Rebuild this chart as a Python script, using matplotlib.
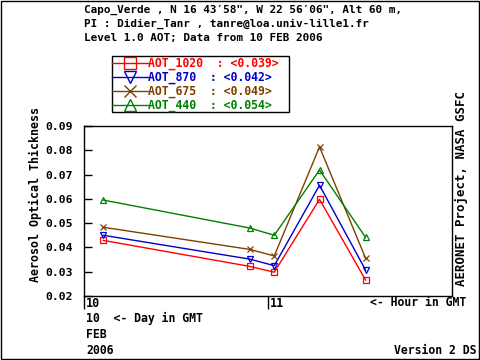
import matplotlib
matplotlib.use("Agg")
import matplotlib.pyplot as plt
from matplotlib.lines import Line2D
from matplotlib.patches import Rectangle

hours = [10.105, 10.90, 11.034, 11.28, 11.53]
aot_1020 = [0.0429, 0.0322, 0.0298, 0.0598, 0.0266]
aot_870 = [0.0450, 0.0352, 0.0325, 0.0656, 0.0307]
aot_675 = [0.0483, 0.0392, 0.0365, 0.0814, 0.0356]
aot_440 = [0.0595, 0.0480, 0.0450, 0.0719, 0.0442]
names = ["AOT_1020", "AOT_870", "AOT_675", "AOT_440"]
means = ["0.039", "0.042", "0.049", "0.054"]
yticks = [0.02, 0.03, 0.04, 0.05, 0.06, 0.07, 0.08, 0.09]
xticks = [10, 11]

colors = ["#ff0000", "#0000cc", "#7f3f00", "#008000"]
markers = ["s", "v", "x", "^"]
series = [aot_1020, aot_870, aot_675, aot_440]

plt.rcParams["font.family"] = "DejaVu Sans Mono"
plt.rcParams["font.weight"] = "bold"
FS = 8.2

W, H = 480, 360
fig = plt.figure(figsize=(4.8, 3.6), dpi=100)
fig.patches.append(Rectangle((0.002, 0.003), 0.995, 0.994, transform=fig.transFigure,
                             fill=False, edgecolor="black", linewidth=1))


def fx(px):
    return px / W


def fy(py):
    return 1 - py / H


ax = fig.add_axes([fx(84), fy(296), fx(452) - fx(84), fy(126) - fy(296)])
for vals, c, m in zip(series, colors, markers):
    ax.plot(hours, vals, color=c, marker=m, markersize=4.5, markerfacecolor="none",
            markeredgecolor=c, markeredgewidth=0.9, linewidth=1.0)

ax.set_xlim(10, 12)
ax.set_ylim(0.02, 0.09)
ax.set_yticks(yticks)
ax.set_yticklabels([f"{v:.2f}" for v in yticks], fontsize=FS, fontweight="bold")
ax.set_xticks(xticks)
ax.set_xticklabels([])
ax.tick_params(axis="y", direction="in", length=6, width=1, pad=8)
ax.tick_params(axis="x", direction="out", length=9, width=1)
for s in ax.spines.values():
    s.set_linewidth(1)
for t in xticks:
    ax.annotate(str(t), xy=(t, 0), xycoords=("data", "axes fraction"), xytext=(1.5, -1),
                textcoords="offset points", fontsize=8.5, fontweight="bold",
                va="top", ha="left")

fig.text(fx(35), fy(195), "Aerosol Optical Thickness", fontsize=8.4, rotation=90,
         va="center", ha="center")

# legend box
fig.patches.append(Rectangle((fx(112), fy(112)), fx(289) - fx(112), fy(56) - fy(112),
                             transform=fig.transFigure, fill=False, edgecolor="black",
                             linewidth=1))
for i, (n, mu, c, m) in enumerate(zip(names, means, colors, markers)):
    yy = fy(63 + 14 * i)
    fig.add_artist(Line2D([fx(112), fx(148)], [yy, yy], color=c, linewidth=1,
                          transform=fig.transFigure))
    fig.add_artist(Line2D([fx(130)], [yy], marker=m, markersize=8, markerfacecolor="none",
                          markeredgecolor=c, markeredgewidth=1, transform=fig.transFigure))
    fig.text(fx(148), yy, f"{n}  : <{mu}>", color=c, fontsize=8.3, va="center", ha="left")

title = ["Capo_Verde , N 16 43\u203258\", W 22 56\u203206\", Alt 60 m,",
         "PI : Didier_Tanr , tanre@loa.univ-lille1.fr",
         "Level 1.0 AOT; Data from 10 FEB 2006"]
for i, line in enumerate(title):
    fig.text(fx(84), fy(9.5 + 14.5 * i), line, fontsize=7.9, va="center", ha="left")

fig.text(fx(370), fy(303), "<- Hour in GMT", fontsize=8.3, va="center", ha="left")
fig.text(fx(86), fy(318), "10  <- Day in GMT", fontsize=8.3, va="center", ha="left")
fig.text(fx(86), fy(334), "FEB", fontsize=8.3, va="center", ha="left")
fig.text(fx(86), fy(350), "2006", fontsize=8.3, va="center", ha="left")
fig.text(fx(476), fy(350), "Version 2 DS", fontsize=8.3, va="center", ha="right")
fig.text(fx(461), fy(188), "AERONET Project, NASA GSFC", fontsize=8.9, rotation=90,
         va="center", ha="center")

fig.savefig("out.png", dpi=100)
